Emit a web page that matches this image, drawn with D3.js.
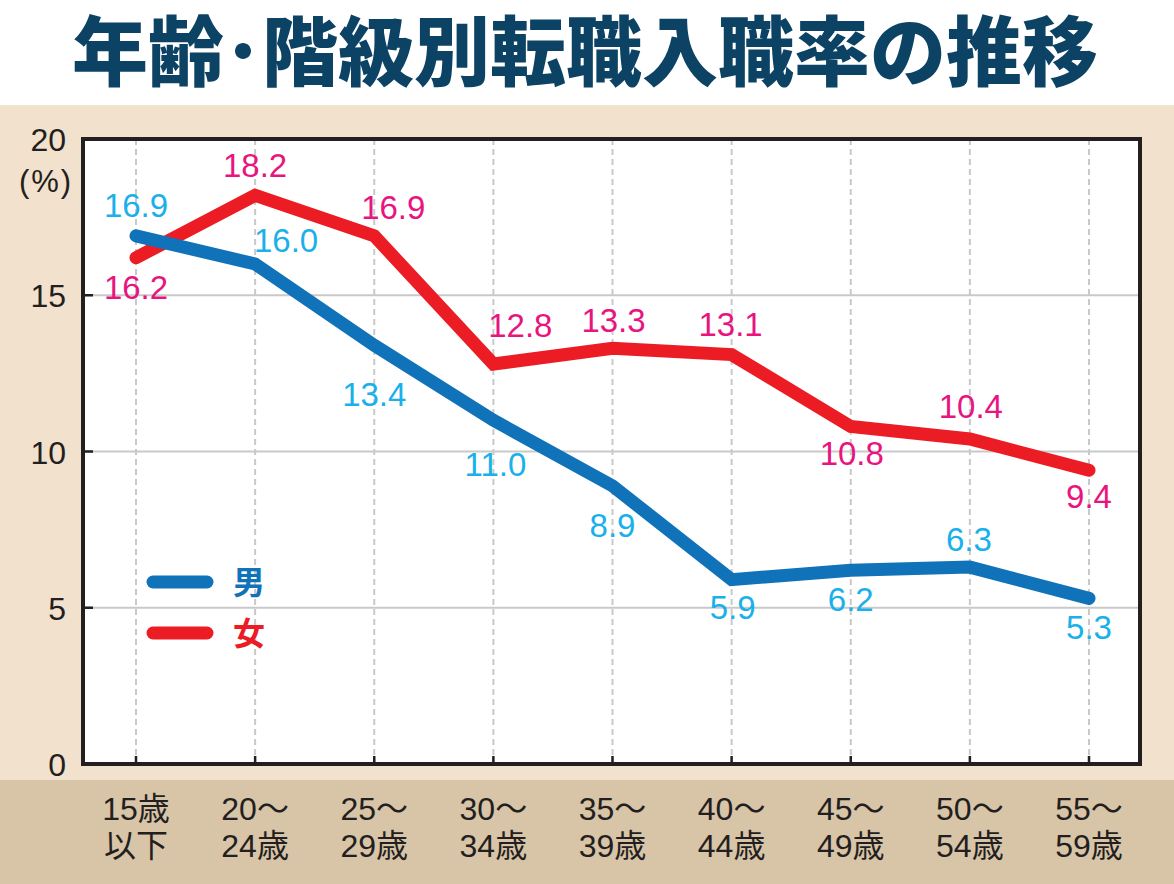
<!DOCTYPE html>
<html><head><meta charset="utf-8">
<script src="https://cdn.jsdelivr.net/npm/d3@7"></script>
<style>
html,body{margin:0;padding:0;background:#fff;}
svg{display:block;}
</style></head>
<body>
<script>
// ---- data ----
const categoriesLine1 = ["15歳","20～","25～","30～","35～","40～","45～","50～","55～"];
const categoriesLine2 = ["以下","24歳","29歳","34歳","39歳","44歳","49歳","54歳","59歳"];
const men   = [16.9, 16.0, 13.4, 11.0, 8.9, 5.9, 6.2, 6.3, 5.3];
const women = [16.2, 18.2, 16.9, 12.8, 13.3, 13.1, 10.8, 10.4, 9.4];
const yTicks = [0, 5, 10, 15, 20];
const seriesNames = ["男", "女"];
const titleText = "年齢･階級別転職入職率の推移";

// ---- label placement (layout only) ----
const menLabelOffset   = [[0,-19],[31,-12],[0,61],[2,56],[0,51],[1,39],[0,41],[-1,-16],[0,41]];
const womenLabelOffset = [[0,41],[0,-18],[19,-17],[27,-27],[1,-16],[-1,-19],[1,38],[1,-21],[0,38]];

const W = 1174, H = 884;
const svg = d3.select("body").append("svg").attr("width", W).attr("height", H);

// backgrounds
svg.append("rect").attr("x",0).attr("y",0).attr("width",W).attr("height",105).attr("fill","#ffffff");
svg.append("rect").attr("x",0).attr("y",105).attr("width",W).attr("height",675).attr("fill","#f2e1cc");
svg.append("rect").attr("x",0).attr("y",780).attr("width",W).attr("height",104).attr("fill","#d8c4a7");

// title (horizontally condensed via transform)
const title = svg.append("text")
  .attr("text-anchor","middle")
  .attr("font-family","'Noto Sans CJK JP','Noto Sans CJK SC',sans-serif")
  .attr("font-weight",900).attr("font-size",76).attr("fill","#0c4264")
  .text(titleText);
const natW = title.node().getComputedTextLength() || 1100;
const sx = Math.min(1, 1038 / natW);
title.attr("transform", `translate(585,80) scale(${sx},1)`);

const plot = {left:83, right:1140, top:139, bottom:764};
const idx = d3.range(categoriesLine1.length);
const x = d3.scalePoint().domain(idx).range([136, 1089]);
const y = d3.scaleLinear().domain([0,20]).range([plot.bottom, plot.top]);

// plot bg
svg.append("rect").attr("x",plot.left).attr("y",plot.top)
  .attr("width",plot.right-plot.left).attr("height",plot.bottom-plot.top).attr("fill","#fff");

// horizontal grid
svg.append("g").selectAll("line").data(yTicks.filter(d=>d>0&&d<20)).join("line")
  .attr("x1",plot.left).attr("x2",plot.right)
  .attr("y1",d=>y(d)).attr("y2",d=>y(d))
  .attr("stroke","#c9c9c9").attr("stroke-width",2);
// vertical dashed grid
svg.append("g").selectAll("line").data(idx).join("line")
  .attr("x1",d=>x(d)).attr("x2",d=>x(d))
  .attr("y1",plot.top).attr("y2",plot.bottom)
  .attr("stroke","#c9c9c9").attr("stroke-width",2).attr("stroke-dasharray","6,4");

// ticks inside
svg.append("g").selectAll("line").data(yTicks).join("line")
  .attr("x1",plot.left).attr("x2",plot.left+10)
  .attr("y1",d=>y(d)).attr("y2",d=>y(d))
  .attr("stroke","#231f20").attr("stroke-width",2.5);
svg.append("g").selectAll("line").data(idx).join("line")
  .attr("x1",d=>x(d)).attr("x2",d=>x(d))
  .attr("y1",plot.bottom).attr("y2",plot.bottom-8)
  .attr("stroke","#231f20").attr("stroke-width",2.5);

// frame
svg.append("rect").attr("x",plot.left).attr("y",plot.top)
  .attr("width",plot.right-plot.left).attr("height",plot.bottom-plot.top)
  .attr("fill","none").attr("stroke","#231f20").attr("stroke-width",4);

// y tick labels
const numFont = "'Liberation Sans','Helvetica','Arial',sans-serif";
svg.append("g").selectAll("text").data(yTicks).join("text")
  .attr("x",66).attr("y",d=>y(d)+12)
  .attr("text-anchor","end")
  .attr("font-family",numFont).attr("font-size",32).attr("fill","#231f20")
  .text(d=>d);
svg.append("text").attr("x",46).attr("y",192).attr("text-anchor","middle")
  .attr("font-family",numFont).attr("font-size",31).attr("letter-spacing",2).attr("fill","#231f20")
  .text("(%)");

// x labels
const xl = svg.append("g").attr("font-family","'Liberation Sans','Noto Sans CJK JP',sans-serif")
  .attr("font-size",32).attr("fill","#231f20").attr("text-anchor","middle");
xl.selectAll("text.l1").data(idx).join("text").attr("class","l1")
  .attr("x",d=>x(d)).attr("y",820).text(d=>categoriesLine1[d]);
xl.selectAll("text.l2").data(idx).join("text").attr("class","l2")
  .attr("x",d=>x(d)).attr("y",857).text(d=>categoriesLine2[d]);

// lines
const line = d3.line().x((d,i)=>x(i)).y(d=>y(d));
const seriesColors = ["#1072b9", "#ec1c24"];
const labelColors = ["#1ab0ea", "#e8157f"];
[[women,1],[men,0]].forEach(([vals,k])=>{
  svg.append("path").datum(vals).attr("d",line)
    .attr("fill","none").attr("stroke",seriesColors[k]).attr("stroke-width",13)
    .attr("stroke-linecap","round").attr("stroke-linejoin","miter");
});

// value labels
function drawLabels(vals, offs, color){
  svg.append("g").selectAll("text").data(vals).join("text")
    .attr("x",(d,i)=>x(i)+offs[i][0]).attr("y",(d,i)=>y(d)+offs[i][1])
    .attr("text-anchor","middle")
    .attr("font-family",numFont).attr("font-size",33).attr("fill",color)
    .text(d=>d.toFixed(1));
}
drawLabels(men, menLabelOffset, labelColors[0]);
drawLabels(women, womenLabelOffset, labelColors[1]);

// legend
const legend = svg.append("g");
seriesNames.forEach((nm,k)=>{
  const ly = 582 + k*51;
  legend.append("line").attr("x1",153).attr("x2",207).attr("y1",ly).attr("y2",ly)
    .attr("stroke",seriesColors[k]).attr("stroke-width",13).attr("stroke-linecap","round");
  legend.append("text").attr("x",233).attr("y",ly+12)
    .attr("font-family","'Noto Sans CJK JP',sans-serif").attr("font-weight",700)
    .attr("font-size",32).attr("fill",seriesColors[k]).text(nm);
});
</script>
</body></html>
